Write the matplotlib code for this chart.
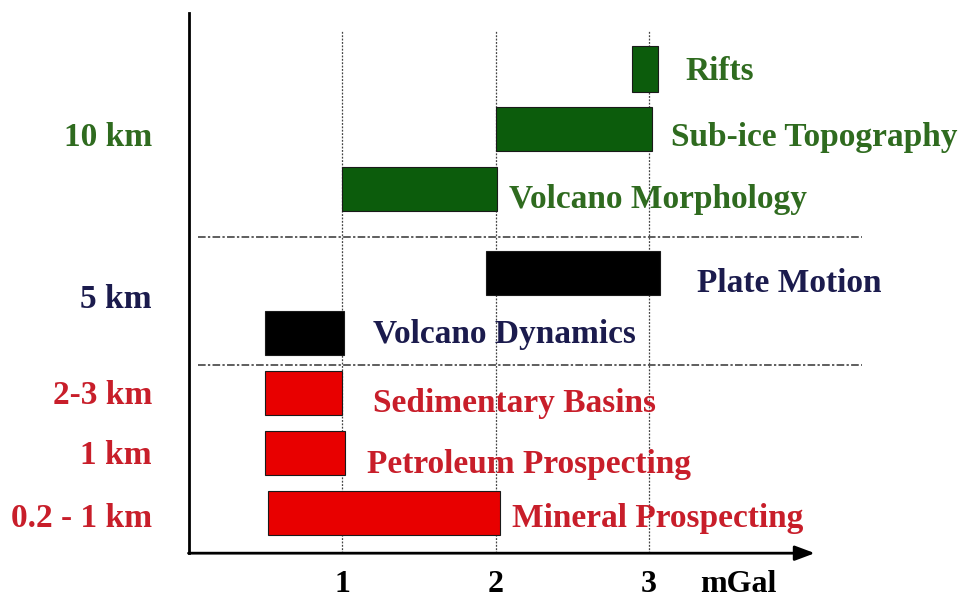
import numpy as np
import matplotlib.pyplot as plt

# =============================================================================
# Data
# =============================================================================
apps = ['Rifts', 'Sub-ice Topography', 'Volcano Morphology', 'Plate Motion',
        'Volcano Dynamics', 'Sedimentary Basins', 'Petroleum Prospecting',
        'Mineral Prospecting']
row_pos = [7.4, 6.4, 5.4, 4.0, 3.0, 2.0, 1.0, 0.0]
x_start = [2.89, 2.00, 1.00, 1.94, 0.50, 0.50, 0.50, 0.52]
x_end   = [3.06, 3.02, 2.01, 3.07, 1.01, 1.00, 1.02, 2.03]
groups  = ['g', 'g', 'g', 'b', 'b', 'r', 'r', 'r']

depth_labels = ['10 km', '5 km', '2-3 km', '1 km', '0.2 - 1 km']
depth_pos    = [6.25, 3.55, 1.95, 0.95, -0.1]
depth_group  = ['g', 'b', 'r', 'r', 'r']

xticks = [1, 2, 3]

bar_col  = {'g': '#0c5c0c', 'b': '#000000', 'r': '#e80000'}
text_col = {'g': '#2f6b1f', 'b': '#1b1b4d', 'r': '#c81e2a'}

# =============================================================================
# Figure
# =============================================================================
fig = plt.figure(figsize=(9.72, 6.04), dpi=100)
ax = fig.add_axes([0, 0, 1, 1])
ax.set_xlim(-1.228, 5.104)
ax.set_ylim(-1.517, 8.55)
ax.axis('off')

font = dict(family='Liberation Serif', weight='bold', fontsize=24)

# grid lines
for xt in xticks:
    ax.plot([xt, xt], [-0.67, 8.05], color='#444444', lw=0.9, ls=(0, (1.5, 1.2)), zorder=1)
for yh in [4.6, 2.47]:
    ax.plot([0.06, 4.39], [yh, yh], color='#333333', lw=1.1, ls=(0, (5, 1.5, 1.5, 1.5)), zorder=1)

# bars
for i in range(len(apps)):
    h = 0.78 if apps[i] == 'Rifts' else 0.72
    ax.barh(row_pos[i], x_end[i] - x_start[i], left=x_start[i], height=h,
            color=bar_col[groups[i]], edgecolor='#1a1a1a', lw=0.8, zorder=2)

# bar labels
lab_x   = [3.24, 3.14, 2.09, 3.31, 1.20, 1.20, 1.16, 2.11]
lab_dy  = [-0.05, -0.15, -0.17, -0.17, -0.03, -0.17, -0.2, -0.1]
for i in range(len(apps)):
    ax.text(lab_x[i], row_pos[i] + lab_dy[i], apps[i], color=text_col[groups[i]],
            ha='left', va='center', zorder=3, **font)

# depth labels
for lab, yp, g in zip(depth_labels, depth_pos, depth_group):
    ax.text(-0.238, yp, lab, color=text_col[g], ha='right', va='center', **font)

# axes
ax.plot([0, 0], [-0.67, 8.33], color='black', lw=2, zorder=4)
ax.annotate('', xy=(4.08, -0.67), xytext=(0, -0.67),
            arrowprops=dict(arrowstyle='-|>,head_length=1.2,head_width=0.45',
                            color='black', lw=2, shrinkA=0, shrinkB=0), zorder=4)

tick_font = dict(font, fontsize=23)
for xt in xticks:
    ax.text(xt, -1.2, str(xt), color='black', ha='center', va='center', **tick_font)
ax.text(3.33, -1.2, 'mGal', color='black', ha='left', va='center', **tick_font)

plt.savefig('out.png', dpi=100)
